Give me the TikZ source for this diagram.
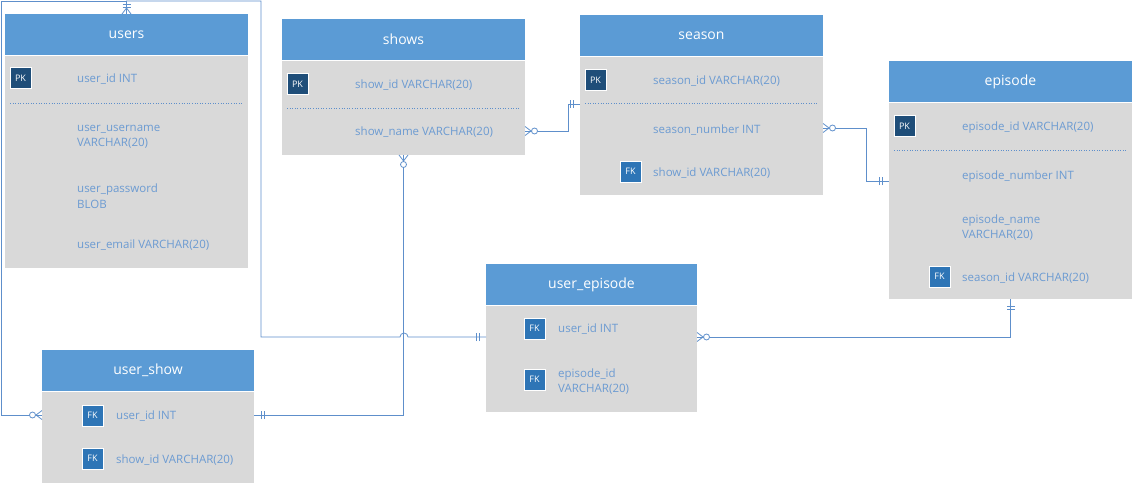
\documentclass[tikz,border=0pt]{standalone}
\usepackage{fontspec}
\setmainfont{Open Sans}
\usetikzlibrary{positioning}
\definecolor{headblue}{HTML}{5B9BD5}
\definecolor{bodygrey}{HTML}{D9D9D9}
\definecolor{pkblue}{HTML}{1F4E79}
\definecolor{fkblue}{HTML}{2E75B6}
\definecolor{fieldblue}{HTML}{6C9BD2}
\definecolor{linkblue}{HTML}{5E8FCB}
\tikzset{
  onemark/.pic={
    \draw[linkblue,line width=0.8pt] (7,-4) -- (7,4) (10,-4) -- (10,4);
  },
  manymark/.pic={
    \draw[linkblue,line width=0.8pt] (0,-4.5) -- (6,0) -- (0,4.5);
  },
  zeromanymark/.pic={
    \draw[linkblue,line width=0.8pt] (0,-4.5) -- (6,0) -- (0,4.5);
    \draw[linkblue,line width=0.8pt,fill=white] (9.5,0) circle (3);
  },
}

\begin{document}
\begin{tikzpicture}[
        x=1pt, y=-1pt
        , head/.style={
             rectangle
            , fill=headblue
            , text=white
            , font=\fontsize{14}{16}\selectfont
            , inner sep=0pt
            , outer sep=0pt
            , minimum height=41
            , anchor=north west
        }
        , body/.style={
             rectangle
            , fill=bodygrey
            , inner sep=0pt
            , outer sep=0pt
        }
        , field/.style={
             anchor=west
            , align=left
            , text=fieldblue
            , inner sep=0pt
            , yshift=-1.5pt
            , font=\fontsize{11.5}{15.5}\selectfont
        }
        , badge/.style={
             rectangle
            , draw=white
            , line width=0.8pt
            , text=white
            , inner sep=0pt
            , minimum size=21
            , font=\fontsize{9}{10}\selectfont
        }
        , pk/.style={badge, fill=pkblue}
        , fk/.style={badge, fill=fkblue}
        , sep/.style={draw=linkblue, dotted, line width=0.6pt}
        , conn/.style={draw=linkblue, line width=0.8pt}
        ]
        \useasboundingbox (0,0) rectangle (1135,484);

        % tables
        \node[head, minimum width=243] (users) at (5,14) {users};
        \node[body, minimum width=243, minimum height=212, below=1pt of users] (usersbody) {};
        \node[head, minimum width=243] (shows) at (282,19) {shows};
        \node[body, minimum width=243, minimum height=94, below=1pt of shows] (showsbody) {};
        \node[head, minimum width=243] (season) at (580,15) {season};
        \node[body, minimum width=243, minimum height=138, below=1pt of season] (seasonbody) {};
        \node[head, minimum width=243] (episode) at (889,61) {episode};
        \node[body, minimum width=243, minimum height=196, below=1pt of episode] (episodebody) {};
        \node[head, minimum width=211] (userep) at (486,264) {user\_episode};
        \node[body, minimum width=211, minimum height=106, below=1pt of userep] (userepbody) {};
        \node[head, minimum width=212] (usershow) at (42,350) {user\_show};
        \node[body, minimum width=212, minimum height=91, below=1pt of usershow] (usershowbody) {};

        % users
        \node[pk] (uspk) at (20.5,78) {PK};
        \node[field] (usid) at (77,78) {user\_id INT};
        \draw[sep] (10,103) -- (243,103);
        \node[field] (usname) at (77,135.5) {user\_username\\VARCHAR(20)};
        \node[field] (uspass) at (77,194.5) {user\_password\\BLOB};
        \node[field] (usmail) at (77,244) {user\_email VARCHAR(20)};

        % shows
        \node[pk] (shpk) at (297.5,84) {PK};
        \node[field] (shid) at (355,84) {show\_id VARCHAR(20)};
        \draw[sep] (287,108) -- (520,108);
        \node[field] (shname) at (355,131) {show\_name VARCHAR(20)};

        % season
        \node[pk] (sepk) at (595.5,80) {PK};
        \node[field] (seid) at (653,80) {season\_id VARCHAR(20)};
        \draw[sep] (585,103) -- (818,103);
        \node[field] (senum) at (653,129) {season\_number INT};
        \node[fk] (sefk) at (630.5,171.5) {FK};
        \node[field] (seshow) at (653,172) {show\_id VARCHAR(20)};

        % episode
        \node[pk] (eppk) at (904.5,126) {PK};
        \node[field] (epid) at (962,126) {episode\_id VARCHAR(20)};
        \draw[sep] (894,150) -- (1127,150);
        \node[field] (epnum) at (962,175) {episode\_number INT};
        \node[field] (epname) at (962,226) {episode\_name\\VARCHAR(20)};
        \node[fk] (epfk) at (939.5,276.5) {FK};
        \node[field] (epseason) at (962,277) {season\_id VARCHAR(20)};

        % user_episode
        \node[fk] (uefk1) at (534.5,328.5) {FK};
        \node[field] (ueuser) at (558,328) {user\_id INT};
        \node[fk] (uefk2) at (534.5,379.5) {FK};
        \node[field] (ueep) at (558,380) {episode\_id\\VARCHAR(20)};

        % user_show
        \node[fk] (usfk1) at (92.5,415.5) {FK};
        \node[field] (usuid) at (116,415) {user\_id INT};
        \node[fk] (usfk2) at (92.5,458.5) {FK};
        \node[field] (usshid) at (116,459) {show\_id VARCHAR(20)};

        \coordinate (ueleft) at (486,337);
        \coordinate (ueright) at (697,337);
        \coordinate (seleft) at (580,104);
        \coordinate (epleft) at (889,181);
        \coordinate (shright) at (525,131);
        \coordinate (seright) at (823,128);
        \coordinate (usleft) at (42,415);
        \coordinate (usright) at (254,415);

        % links
        \draw[conn] (users.north) -- ++(0,-13) -- ++(-125.5,0) |- (usleft);
        \draw[conn] (users.north) -- ++(0,-13) -- ++(134.5,0) -- ++(0,336) -- ++(139,0)
            arc[start angle=180, end angle=360, radius=4] -- (ueleft);
        \draw[conn] (showsbody.south) |- (usright);
        \draw[conn] (shright) -- ++(43,0) |- (seleft);
        \draw[conn] (seright) -- ++(43,0) |- (epleft);
        \draw[conn] (ueright) -| (episodebody.south);

        \pic[rotate=90] at (users.north) {onemark};
        \pic[rotate=90] at (users.north) {manymark};
        \pic[rotate=180] at (usleft) {zeromanymark};
        \pic[rotate=180] at (ueleft) {onemark};
        \pic[rotate=-90] at (showsbody.south) {zeromanymark};
        \pic at (usright) {onemark};
        \pic at (shright) {zeromanymark};
        \pic[rotate=180] at (seleft) {onemark};
        \pic at (seright) {zeromanymark};
        \pic[rotate=180] at (epleft) {onemark};
        \pic at (ueright) {zeromanymark};
        \pic[rotate=-90] at (episodebody.south) {onemark};
    \end{tikzpicture}
\end{document}
